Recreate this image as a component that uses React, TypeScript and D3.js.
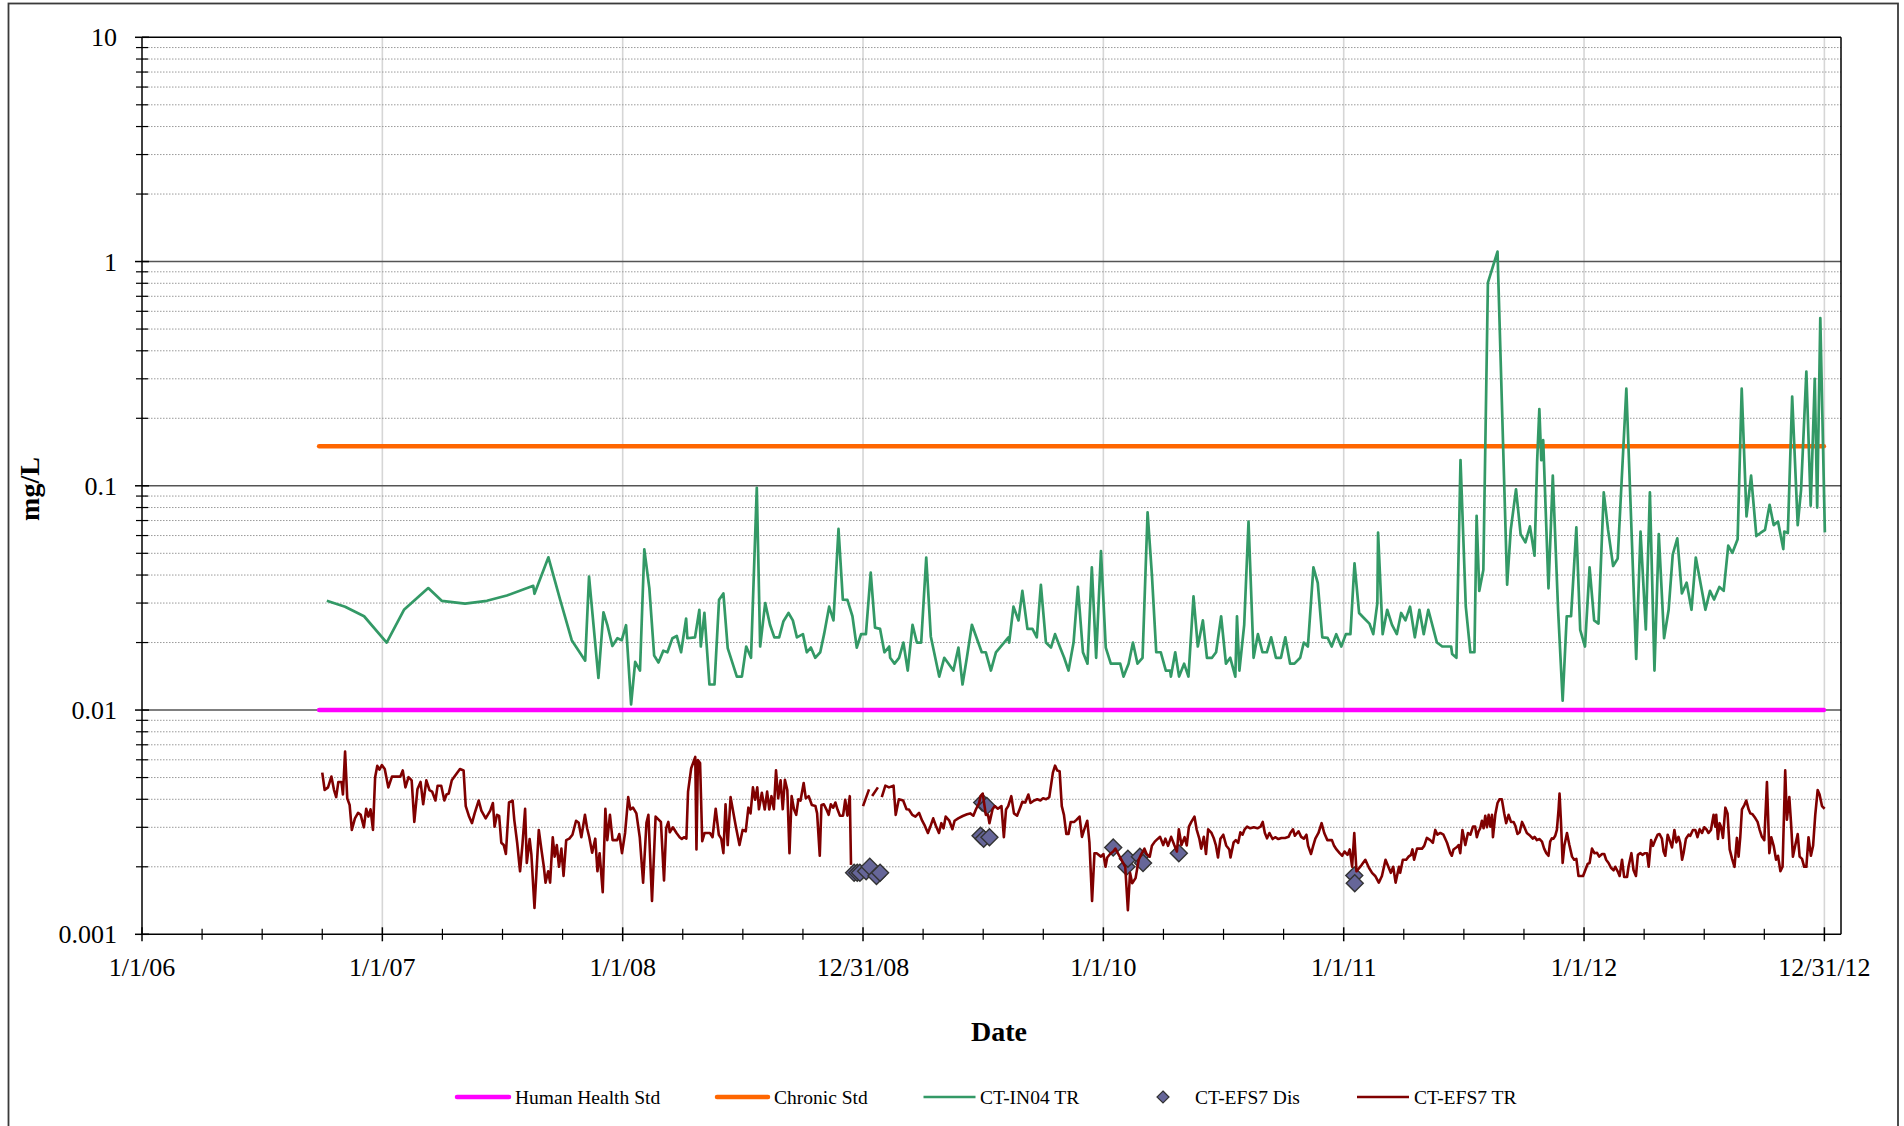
import React from 'react';
import * as d3 from 'd3';

// ---------- axis / tick data ----------
const xTickLabels = ['1/1/06', '1/1/07', '1/1/08', '12/31/08', '1/1/10', '1/1/11', '1/1/12', '12/31/12'];
const yTickValues = [0.001, 0.01, 0.1, 1, 10];
const yTickLabels = ['0.001', '0.01', '0.1', '1', '10'];

// ---------- standards ----------
const stdYears = [2006.737, 2012.998];
const humanHealthStd = 0.01;
const chronicStd = 0.15;

// ---------- series (decimal year, mg/L) ----------
const ctIn04TR: [number, number][] = [
  [2006.769, 0.0307], [2006.845, 0.0289], [2006.924, 0.0262], [2007.018, 0.020], [2007.090, 0.028], [2007.191, 0.035],
  [2007.247, 0.0307], [2007.344, 0.0298], [2007.435, 0.0307], [2007.518, 0.0324], [2007.628, 0.0358], [2007.633, 0.033],
  [2007.691, 0.048], [2007.740, 0.031], [2007.788, 0.0205], [2007.844, 0.0166], [2007.860, 0.0394], [2007.899, 0.0139],
  [2007.920, 0.0273], [2007.936, 0.024], [2007.957, 0.0193], [2007.978, 0.0209], [2007.996, 0.0205], [2008.014, 0.0239],
  [2008.035, 0.0106], [2008.052, 0.0164], [2008.072, 0.015], [2008.090, 0.0521], [2008.111, 0.0349], [2008.131, 0.0175],
  [2008.149, 0.0163], [2008.169, 0.0184], [2008.186, 0.0181], [2008.207, 0.0209], [2008.225, 0.0214], [2008.243, 0.0181],
  [2008.264, 0.0256], [2008.269, 0.0209], [2008.301, 0.0211], [2008.319, 0.028], [2008.325, 0.0192], [2008.340, 0.0271],
  [2008.361, 0.013], [2008.382, 0.013], [2008.401, 0.031], [2008.419, 0.0331], [2008.437, 0.0189], [2008.475, 0.0141],
  [2008.496, 0.0141], [2008.514, 0.0192], [2008.534, 0.0171], [2008.558, 0.098], [2008.572, 0.0192], [2008.593, 0.030],
  [2008.613, 0.024], [2008.631, 0.0211], [2008.651, 0.0211], [2008.669, 0.0249], [2008.690, 0.0271], [2008.708, 0.0251],
  [2008.725, 0.0211], [2008.750, 0.0218], [2008.766, 0.0181], [2008.783, 0.019], [2008.801, 0.0171], [2008.822, 0.0181],
  [2008.838, 0.0218], [2008.859, 0.0289], [2008.877, 0.0251], [2008.898, 0.0642], [2008.916, 0.0311], [2008.935, 0.031],
  [2008.956, 0.0262], [2008.974, 0.019], [2008.992, 0.0218], [2009.012, 0.0218], [2009.032, 0.041], [2009.050, 0.0233],
  [2009.071, 0.023], [2009.089, 0.0181], [2009.109, 0.0192], [2009.113, 0.0171], [2009.131, 0.0161], [2009.150, 0.0171],
  [2009.168, 0.020], [2009.186, 0.015], [2009.206, 0.024], [2009.224, 0.020], [2009.242, 0.020], [2009.263, 0.0479],
  [2009.282, 0.0213], [2009.317, 0.0141], [2009.338, 0.0171], [2009.376, 0.015], [2009.397, 0.019], [2009.414, 0.013],
  [2009.432, 0.0171], [2009.453, 0.024], [2009.494, 0.0181], [2009.511, 0.0181], [2009.532, 0.015], [2009.553, 0.0181],
  [2009.605, 0.0211], [2009.608, 0.020], [2009.626, 0.0289], [2009.647, 0.0251], [2009.663, 0.034], [2009.684, 0.023],
  [2009.705, 0.023], [2009.723, 0.0211], [2009.740, 0.0362], [2009.761, 0.020], [2009.782, 0.019], [2009.799, 0.0218],
  [2009.820, 0.019], [2009.837, 0.0171], [2009.855, 0.015], [2009.876, 0.020], [2009.894, 0.0354], [2009.915, 0.0181],
  [2009.934, 0.0161], [2009.952, 0.0433], [2009.970, 0.0171], [2009.990, 0.0511], [2010.010, 0.019], [2010.031, 0.0161],
  [2010.070, 0.0161], [2010.084, 0.0141], [2010.105, 0.0161], [2010.123, 0.020], [2010.142, 0.0161], [2010.163, 0.0171],
  [2010.184, 0.0762], [2010.202, 0.0401], [2010.220, 0.0181], [2010.239, 0.0181], [2010.260, 0.015], [2010.278, 0.015],
  [2010.281, 0.0141], [2010.299, 0.0181], [2010.315, 0.0141], [2010.336, 0.0161], [2010.354, 0.0141], [2010.375, 0.0321],
  [2010.393, 0.0192], [2010.414, 0.0251], [2010.431, 0.0171], [2010.452, 0.0171], [2010.469, 0.0181], [2010.490, 0.0262],
  [2010.510, 0.0161], [2010.528, 0.0171], [2010.549, 0.0141], [2010.556, 0.0262], [2010.566, 0.015], [2010.586, 0.024],
  [2010.604, 0.0693], [2010.625, 0.0171], [2010.643, 0.0218], [2010.662, 0.0181], [2010.680, 0.0181], [2010.698, 0.0211],
  [2010.718, 0.0171], [2010.739, 0.0171], [2010.757, 0.0211], [2010.777, 0.0161], [2010.795, 0.0161], [2010.819, 0.0171],
  [2010.834, 0.020], [2010.851, 0.0192], [2010.874, 0.0433], [2010.892, 0.0369], [2010.911, 0.0211], [2010.933, 0.021],
  [2010.950, 0.0192], [2010.969, 0.0218], [2010.990, 0.0192], [2011.009, 0.0218], [2011.028, 0.0218], [2011.045, 0.0451],
  [2011.064, 0.0271], [2011.086, 0.0256], [2011.107, 0.0243], [2011.123, 0.0218], [2011.140, 0.030], [2011.143, 0.0619],
  [2011.162, 0.0218], [2011.181, 0.028], [2011.201, 0.024], [2011.221, 0.0218], [2011.239, 0.0271], [2011.257, 0.0251],
  [2011.276, 0.0289], [2011.296, 0.0211], [2011.315, 0.028], [2011.333, 0.0218], [2011.352, 0.028], [2011.388, 0.020],
  [2011.410, 0.0192], [2011.447, 0.0192], [2011.451, 0.0178], [2011.469, 0.0171], [2011.486, 0.1303], [2011.508, 0.0289],
  [2011.527, 0.0181], [2011.544, 0.0181], [2011.553, 0.0735], [2011.564, 0.034], [2011.581, 0.0421], [2011.600, 0.806],
  [2011.640, 1.108], [2011.680, 0.0362], [2011.695, 0.0636], [2011.717, 0.0965], [2011.736, 0.0609], [2011.756, 0.0559],
  [2011.775, 0.0659], [2011.794, 0.0488], [2011.805, 0.13], [2011.814, 0.22], [2011.822, 0.13], [2011.830, 0.16],
  [2011.852, 0.0349], [2011.870, 0.111], [2011.892, 0.028], [2011.911, 0.011], [2011.928, 0.0262], [2011.946, 0.0262],
  [2011.968, 0.0652], [2011.984, 0.0228], [2012.004, 0.0192], [2012.023, 0.0433], [2012.042, 0.0251], [2012.060, 0.0243],
  [2012.082, 0.0935], [2012.100, 0.0636], [2012.121, 0.0439], [2012.140, 0.0474], [2012.176, 0.271], [2012.217, 0.0169],
  [2012.235, 0.0625], [2012.257, 0.0229], [2012.274, 0.0935], [2012.293, 0.015], [2012.311, 0.0609], [2012.333, 0.0209],
  [2012.352, 0.028], [2012.369, 0.0493], [2012.388, 0.0583], [2012.407, 0.0331], [2012.427, 0.037], [2012.447, 0.028],
  [2012.465, 0.0479], [2012.505, 0.028], [2012.524, 0.034], [2012.541, 0.0311], [2012.563, 0.0354], [2012.581, 0.034],
  [2012.600, 0.0541], [2012.617, 0.0502], [2012.639, 0.0577], [2012.656, 0.271], [2012.676, 0.073], [2012.695, 0.111],
  [2012.717, 0.0597], [2012.734, 0.0616], [2012.753, 0.0636], [2012.772, 0.0823], [2012.789, 0.0668], [2012.807, 0.0693],
  [2012.829, 0.0522], [2012.833, 0.0625], [2012.848, 0.0616], [2012.866, 0.25], [2012.889, 0.0668], [2012.903, 0.096],
  [2012.925, 0.323], [2012.943, 0.0815], [2012.960, 0.30], [2012.970, 0.08], [2012.983, 0.56], [2013.002, 0.062],
];

const ctEfs7Dis: [number, number][] = [
  [2008.963, 0.00188], [2008.976, 0.00188], [2008.987, 0.00188], [2009.013, 0.00191], [2009.028, 0.0020],
  [2009.056, 0.00182], [2009.071, 0.00188], [2009.489, 0.00275], [2009.496, 0.00387], [2009.502, 0.00267],
  [2009.515, 0.00373], [2009.526, 0.00271], [2010.041, 0.00244], [2010.096, 0.0020], [2010.102, 0.00217],
  [2010.152, 0.00222], [2010.165, 0.00208], [2010.314, 0.0023], [2011.044, 0.00183], [2011.046, 0.00169],
];

const ctEfs7TR: [number, number | null][] = [
  [2006.750, 0.00526], [2006.760, 0.0044], [2006.774, 0.00452], [2006.788, 0.00505], [2006.799, 0.0044], [2006.808, 0.00409],
  [2006.817, 0.00478], [2006.830, 0.00478], [2006.836, 0.0042], [2006.845, 0.00653], [2006.854, 0.00404], [2006.864, 0.00377],
  [2006.873, 0.00292], [2006.886, 0.00329], [2006.899, 0.00348], [2006.910, 0.00341], [2006.923, 0.003], [2006.933, 0.00363],
  [2006.942, 0.00335], [2006.951, 0.00361], [2006.961, 0.00292], [2006.970, 0.00502], [2006.979, 0.00564], [2006.988, 0.00543],
  [2006.998, 0.00568], [2007.010, 0.00546], [2007.025, 0.00452], [2007.040, 0.00505], [2007.059, 0.00505], [2007.075, 0.00505],
  [2007.085, 0.00538], [2007.096, 0.00452], [2007.109, 0.00502], [2007.122, 0.00486], [2007.133, 0.00317], [2007.146, 0.00443],
  [2007.159, 0.00478], [2007.170, 0.0038], [2007.183, 0.00486], [2007.196, 0.0044], [2007.207, 0.00433], [2007.221, 0.00395],
  [2007.230, 0.0046], [2007.245, 0.0046], [2007.258, 0.00395], [2007.267, 0.0042], [2007.276, 0.00424], [2007.289, 0.00486],
  [2007.304, 0.00512], [2007.323, 0.00546], [2007.338, 0.00538], [2007.347, 0.00373], [2007.360, 0.00337], [2007.373, 0.00313],
  [2007.384, 0.00346], [2007.401, 0.00395], [2007.412, 0.00356], [2007.430, 0.00329], [2007.449, 0.00356], [2007.460, 0.00385],
  [2007.467, 0.00302], [2007.477, 0.00341], [2007.486, 0.00337], [2007.495, 0.00256], [2007.505, 0.0025], [2007.514, 0.00228],
  [2007.527, 0.00387], [2007.542, 0.00395], [2007.549, 0.00324], [2007.561, 0.00256], [2007.573, 0.00191], [2007.583, 0.00252],
  [2007.594, 0.00363], [2007.601, 0.00208], [2007.613, 0.00266], [2007.620, 0.00228], [2007.633, 0.00131], [2007.651, 0.00292],
  [2007.663, 0.00234], [2007.672, 0.002], [2007.679, 0.0017], [2007.690, 0.00191], [2007.698, 0.0017], [2007.709, 0.00271],
  [2007.717, 0.00222], [2007.726, 0.0025], [2007.735, 0.002], [2007.745, 0.00241], [2007.754, 0.00182], [2007.765, 0.00263],
  [2007.778, 0.00267], [2007.791, 0.00278], [2007.806, 0.00321], [2007.817, 0.00314], [2007.828, 0.00271], [2007.843, 0.00341],
  [2007.852, 0.00297], [2007.861, 0.00271], [2007.873, 0.00231], [2007.886, 0.00267], [2007.895, 0.00191], [2007.904, 0.0023],
  [2007.917, 0.00154], [2007.928, 0.00363], [2007.936, 0.00263], [2007.947, 0.00341], [2007.958, 0.00263], [2007.977, 0.00263],
  [2007.986, 0.0028], [2007.997, 0.0023], [2008.010, 0.00283], [2008.023, 0.00409], [2008.032, 0.0036], [2008.043, 0.00367],
  [2008.057, 0.00346], [2008.071, 0.00271], [2008.085, 0.0017], [2008.099, 0.00314], [2008.107, 0.00341], [2008.122, 0.00141],
  [2008.137, 0.00335], [2008.159, 0.00317], [2008.172, 0.00174], [2008.181, 0.00297], [2008.190, 0.00317], [2008.196, 0.00285],
  [2008.209, 0.003], [2008.224, 0.00283], [2008.237, 0.00271], [2008.246, 0.00266], [2008.255, 0.00271], [2008.265, 0.00267],
  [2008.272, 0.00433], [2008.285, 0.0055], [2008.302, 0.00618], [2008.307, 0.00239], [2008.313, 0.00598], [2008.322, 0.00581],
  [2008.331, 0.0026], [2008.341, 0.00283], [2008.363, 0.00283], [2008.374, 0.00271], [2008.387, 0.00363], [2008.400, 0.00278],
  [2008.410, 0.00267], [2008.419, 0.0023], [2008.428, 0.0038], [2008.437, 0.0025], [2008.449, 0.00409], [2008.462, 0.00341],
  [2008.471, 0.00302], [2008.486, 0.0025], [2008.499, 0.00292], [2008.512, 0.00288], [2008.523, 0.00367], [2008.532, 0.00346],
  [2008.542, 0.00452], [2008.551, 0.00398], [2008.560, 0.00452], [2008.567, 0.00361], [2008.579, 0.00428], [2008.591, 0.0036],
  [2008.601, 0.00433], [2008.610, 0.0036], [2008.619, 0.00413], [2008.629, 0.00361], [2008.638, 0.00538], [2008.647, 0.00404],
  [2008.657, 0.00486], [2008.666, 0.00361], [2008.675, 0.00489], [2008.685, 0.0044], [2008.694, 0.0023], [2008.703, 0.00413],
  [2008.713, 0.0036], [2008.722, 0.00341], [2008.731, 0.004], [2008.740, 0.00395], [2008.753, 0.00473], [2008.762, 0.00404],
  [2008.774, 0.00413], [2008.787, 0.00377], [2008.802, 0.00373], [2008.809, 0.00346], [2008.820, 0.00224], [2008.827, 0.00377],
  [2008.837, 0.0038], [2008.848, 0.0036], [2008.857, 0.00341], [2008.866, 0.0038], [2008.876, 0.00367], [2008.885, 0.00387],
  [2008.894, 0.0036], [2008.904, 0.00338], [2008.917, 0.00338], [2008.926, 0.00398], [2008.935, 0.00338], [2008.945, 0.00413],
  [2008.950, 0.00204], [2008.975, null],
  [2009.000, 0.00373], [2009.025, 0.00443], [2009.031, null],
  [2009.038, 0.00414], [2009.062, 0.00452], [2009.070, null],
  [2009.078, 0.00409], [2009.093, 0.0046], [2009.108, 0.00452], [2009.127, 0.0046], [2009.136, 0.00341], [2009.149, 0.004],
  [2009.167, 0.00395], [2009.181, 0.00361], [2009.191, 0.0036], [2009.205, 0.00341], [2009.218, 0.00335], [2009.233, 0.00348],
  [2009.246, 0.00321], [2009.257, 0.00305], [2009.270, 0.00283], [2009.279, 0.003], [2009.292, 0.00329], [2009.303, 0.00305],
  [2009.316, 0.00283], [2009.326, 0.00313], [2009.335, 0.00297], [2009.344, 0.00335], [2009.359, 0.00321], [2009.372, 0.00294],
  [2009.381, 0.00321], [2009.396, 0.00329], [2009.415, 0.00337], [2009.433, 0.00343], [2009.446, 0.00346], [2009.459, 0.00338],
  [2009.470, 0.00361], [2009.483, 0.00385], [2009.489, 0.00413], [2009.498, 0.00424], [2009.511, 0.00341], [2009.520, 0.00341],
  [2009.526, 0.00313], [2009.539, 0.00361], [2009.548, 0.00373], [2009.561, 0.00363], [2009.576, 0.00373], [2009.586, 0.00271],
  [2009.595, 0.0036], [2009.604, 0.00373], [2009.617, 0.00413], [2009.628, 0.00346], [2009.641, 0.00338], [2009.654, 0.00367],
  [2009.663, 0.0039], [2009.675, 0.00387], [2009.688, 0.0042], [2009.697, 0.00385], [2009.712, 0.00395], [2009.725, 0.004],
  [2009.738, 0.00395], [2009.749, 0.00404], [2009.762, 0.004], [2009.775, 0.00409], [2009.790, 0.00526], [2009.799, 0.00565],
  [2009.808, 0.00538], [2009.818, 0.00534], [2009.827, 0.00373], [2009.836, 0.00341], [2009.846, 0.0028], [2009.855, 0.0028],
  [2009.864, 0.00317], [2009.879, 0.00317], [2009.888, 0.00324], [2009.901, 0.00335], [2009.911, 0.00272], [2009.920, 0.00292],
  [2009.933, 0.00321], [2009.942, 0.00257], [2009.953, 0.00141], [2009.963, 0.0023], [2009.972, 0.0023], [2009.990, 0.00222],
  [2010.000, 0.00228], [2010.009, 0.002], [2010.016, 0.0022], [2010.028, 0.00228], [2010.041, 0.00234], [2010.050, 0.00241],
  [2010.068, 0.00222], [2010.078, 0.00212], [2010.091, 0.002], [2010.102, 0.00128], [2010.111, 0.00188], [2010.120, 0.00169],
  [2010.134, 0.00178], [2010.147, 0.00215], [2010.158, 0.00228], [2010.171, 0.00241], [2010.180, 0.00228], [2010.193, 0.00222],
  [2010.202, 0.00248], [2010.214, 0.00259], [2010.227, 0.00267], [2010.236, 0.00272], [2010.249, 0.0025], [2010.258, 0.00267],
  [2010.269, 0.00248], [2010.282, 0.00272], [2010.295, 0.0025], [2010.306, 0.00234], [2010.314, 0.00294], [2010.325, 0.0025],
  [2010.338, 0.00271], [2010.347, 0.00249], [2010.356, 0.00302], [2010.366, 0.00317], [2010.379, 0.00335], [2010.388, 0.00294],
  [2010.399, 0.00268], [2010.407, 0.00241], [2010.418, 0.00272], [2010.427, 0.00228], [2010.436, 0.00294], [2010.450, 0.00283],
  [2010.459, 0.00269], [2010.468, 0.0025], [2010.477, 0.0022], [2010.487, 0.00267], [2010.499, 0.00278], [2010.511, 0.00249],
  [2010.524, 0.00239], [2010.529, 0.0022], [2010.542, 0.00257], [2010.551, 0.00263], [2010.561, 0.00256], [2010.570, 0.00285],
  [2010.579, 0.00278], [2010.588, 0.00294], [2010.598, 0.00302], [2010.611, 0.00297], [2010.626, 0.003], [2010.641, 0.00297],
  [2010.654, 0.00302], [2010.663, 0.00317], [2010.672, 0.00283], [2010.681, 0.00268], [2010.691, 0.00283], [2010.704, 0.00266],
  [2010.715, 0.00271], [2010.728, 0.00266], [2010.741, 0.00269], [2010.756, 0.00269], [2010.771, 0.00272], [2010.778, 0.00283],
  [2010.789, 0.00294], [2010.797, 0.00275], [2010.812, 0.00288], [2010.823, 0.00272], [2010.834, 0.00267], [2010.845, 0.00278],
  [2010.852, 0.00248], [2010.864, 0.00228], [2010.873, 0.00248], [2010.882, 0.00267], [2010.895, 0.00283], [2010.908, 0.00313],
  [2010.919, 0.00283], [2010.932, 0.00263], [2010.951, 0.00263], [2010.960, 0.00248], [2010.970, 0.00239], [2010.983, 0.0023],
  [2010.994, 0.00224], [2011.003, 0.00234], [2011.016, 0.00226], [2011.025, 0.00239], [2011.035, 0.002], [2011.044, 0.00283],
  [2011.053, 0.00191], [2011.062, 0.00196], [2011.075, 0.00204], [2011.090, 0.00215], [2011.105, 0.00198], [2011.118, 0.00188],
  [2011.131, 0.00182], [2011.146, 0.0017], [2011.159, 0.00182], [2011.174, 0.00215], [2011.196, 0.00188], [2011.206, 0.002],
  [2011.216, 0.0017], [2011.230, 0.002], [2011.235, 0.00188], [2011.246, 0.00215], [2011.260, 0.00215], [2011.270, 0.00222],
  [2011.280, 0.00226], [2011.286, 0.00239], [2011.293, 0.00215], [2011.305, 0.00241], [2011.326, 0.00241], [2011.335, 0.00248],
  [2011.346, 0.00269], [2011.360, 0.00263], [2011.371, 0.00256], [2011.381, 0.00292], [2011.390, 0.00278], [2011.402, 0.00283],
  [2011.415, 0.00278], [2011.430, 0.00256], [2011.443, 0.00231], [2011.450, 0.00224], [2011.457, 0.00239], [2011.471, 0.00245],
  [2011.478, 0.0025], [2011.485, 0.0023], [2011.494, 0.00292], [2011.506, 0.0025], [2011.517, 0.00283], [2011.527, 0.00278],
  [2011.538, 0.00302], [2011.547, 0.00302], [2011.554, 0.00271], [2011.561, 0.00288], [2011.568, 0.00297], [2011.575, 0.00321],
  [2011.582, 0.00297], [2011.589, 0.00338], [2011.596, 0.003], [2011.603, 0.00341], [2011.610, 0.00302], [2011.617, 0.00341],
  [2011.621, 0.00271], [2011.631, 0.00343], [2011.640, 0.00385], [2011.648, 0.004], [2011.658, 0.004], [2011.668, 0.00346],
  [2011.676, 0.00313], [2011.686, 0.00341], [2011.696, 0.00317], [2011.707, 0.00317], [2011.714, 0.00305], [2011.723, 0.0028],
  [2011.732, 0.00285], [2011.742, 0.00317], [2011.751, 0.00302], [2011.762, 0.00283], [2011.776, 0.00275], [2011.787, 0.00267],
  [2011.794, 0.00272], [2011.804, 0.00263], [2011.815, 0.00266], [2011.825, 0.00259], [2011.834, 0.00241], [2011.843, 0.0023],
  [2011.852, 0.00224], [2011.859, 0.00259], [2011.866, 0.00268], [2011.873, 0.00267], [2011.880, 0.00275], [2011.887, 0.00292],
  [2011.894, 0.00361], [2011.898, 0.00424], [2011.904, 0.00317], [2011.911, 0.00208], [2011.918, 0.00248], [2011.929, 0.00283],
  [2011.939, 0.0025], [2011.950, 0.00222], [2011.959, 0.00215], [2011.968, 0.00217], [2011.977, 0.00182], [2011.996, 0.00182],
  [2012.005, 0.00193], [2012.015, 0.00206], [2012.023, 0.00208], [2012.033, 0.00241], [2012.043, 0.0023], [2012.054, 0.00231],
  [2012.063, 0.00222], [2012.075, 0.00228], [2012.084, 0.00228], [2012.092, 0.00215], [2012.102, 0.00208], [2012.112, 0.00198],
  [2012.123, 0.00193], [2012.130, 0.002], [2012.140, 0.00191], [2012.148, 0.00182], [2012.158, 0.00215], [2012.167, 0.0018],
  [2012.179, 0.0018], [2012.185, 0.002], [2012.197, 0.0023], [2012.206, 0.00193], [2012.216, 0.00182], [2012.224, 0.00226],
  [2012.234, 0.0023], [2012.244, 0.00226], [2012.252, 0.0023], [2012.262, 0.0023], [2012.269, 0.002], [2012.279, 0.00263],
  [2012.287, 0.00248], [2012.296, 0.00263], [2012.306, 0.00278], [2012.314, 0.0028], [2012.324, 0.00267], [2012.331, 0.00234],
  [2012.338, 0.00224], [2012.348, 0.00278], [2012.356, 0.00263], [2012.366, 0.00244], [2012.376, 0.00292], [2012.384, 0.00257],
  [2012.393, 0.00272], [2012.400, 0.00256], [2012.408, 0.00215], [2012.414, 0.0023], [2012.424, 0.00267], [2012.435, 0.00278],
  [2012.442, 0.00275], [2012.453, 0.00292], [2012.463, 0.00292], [2012.472, 0.00271], [2012.481, 0.00294], [2012.491, 0.00283],
  [2012.500, 0.003], [2012.509, 0.00294], [2012.518, 0.00283], [2012.528, 0.00292], [2012.539, 0.00341], [2012.546, 0.00302],
  [2012.550, 0.00341], [2012.557, 0.00266], [2012.564, 0.00313], [2012.570, 0.00302], [2012.578, 0.00269], [2012.588, 0.00367],
  [2012.597, 0.00346], [2012.606, 0.00239], [2012.616, 0.00217], [2012.626, 0.002], [2012.636, 0.00269], [2012.643, 0.00222],
  [2012.650, 0.00271], [2012.657, 0.00361], [2012.667, 0.00377], [2012.675, 0.00395], [2012.685, 0.0036], [2012.692, 0.00346],
  [2012.701, 0.00343], [2012.713, 0.00329], [2012.722, 0.00317], [2012.730, 0.00294], [2012.740, 0.00272], [2012.750, 0.00263],
  [2012.761, 0.00478], [2012.771, 0.0023], [2012.779, 0.00271], [2012.789, 0.00248], [2012.799, 0.00215], [2012.807, 0.00224],
  [2012.817, 0.00191], [2012.826, 0.002], [2012.837, 0.00538], [2012.844, 0.00324], [2012.854, 0.00409], [2012.861, 0.00317],
  [2012.869, 0.00222], [2012.879, 0.0025], [2012.889, 0.0028], [2012.897, 0.00222], [2012.907, 0.00217], [2012.916, 0.002],
  [2012.925, 0.002], [2012.934, 0.00271], [2012.944, 0.00224], [2012.953, 0.00248], [2012.962, 0.00341], [2012.972, 0.0044],
  [2012.980, 0.0042], [2012.990, 0.00373], [2013.001, 0.00363],
];

// ---------- layout ----------
const W = 1904;
const H = 1126;
const PL = 142;
const PR = 1841;
const PT = 37.3;
const PB = 934.3;
const FONT = "'Times New Roman', 'Liberation Serif', serif";

const DAY = 86400000;
const T0 = Date.UTC(2006, 0, 1);
const yearToDate = (yr: number) => new Date(T0 + (yr - 2006) * 365.25 * DAY);

export default function App() {
  const x = d3.scaleTime().domain([new Date(T0), new Date(Date.UTC(2013, 0, 26))]).range([PL, PR]);
  const y = d3.scaleLog().domain([0.001, 10]).range([PB, PT]);

  const majorX = xTickLabels.map((_, i) => yearToDate(2006 + i));
  const minorX: Date[] = [];
  for (let k = 1; k <= 28; k++) if (k % 4 !== 0) minorX.push(yearToDate(2006 + k / 4));

  const minorY: number[] = [];
  [0.001, 0.01, 0.1, 1].forEach((d) => {
    for (let m = 2; m <= 9; m++) minorY.push(d * m);
  });

  const line = d3
    .line<[number, number | null]>()
    .defined((d) => d[1] != null)
    .x((d) => x(yearToDate(d[0])))
    .y((d) => y(d[1] as number));

  const stdLine = (v: number) => line(stdYears.map((yr) => [yr, v] as [number, number])) || '';

  const diamond = (r: number) => `M0,${-r}L${r},0L0,${r}L${-r},0Z`;

  const legendY = 1097;
  const legendTextY = 1103.5;

  return (
    <svg
      width={W}
      height={H}
      style={{ position: 'absolute', left: 0, top: 0, display: 'block', background: '#fff' }}
      fontFamily={FONT}
    >
      <rect x={0} y={0} width={W} height={H} fill="#fff" />
      {/* outer chart frame */}
      <rect x={8.5} y={3.5} width={1889.5} height={1140} fill="none" stroke="#3a3a3a" strokeWidth={1.8} />

      {/* vertical gridlines */}
      {majorX.slice(1).map((d, i) => (
        <line key={'vg' + i} x1={x(d)} x2={x(d)} y1={PT} y2={PB} stroke="#d6d6d6" strokeWidth={1.6} />
      ))}
      {/* minor horizontal gridlines */}
      {minorY.map((v, i) => (
        <line key={'mg' + i} x1={PL} x2={PR} y1={y(v)} y2={y(v)} stroke="#9a9a9a" strokeWidth={1} strokeDasharray="1.5,1.5" />
      ))}
      {/* major horizontal gridlines */}
      {[0.01, 0.1, 1].map((v, i) => (
        <line key={'Mg' + i} x1={PL} x2={PR} y1={y(v)} y2={y(v)} stroke="#555" strokeWidth={1.5} />
      ))}

      {/* plot border */}
      <line x1={PL} x2={PR} y1={PT} y2={PT} stroke="#000" strokeWidth={1.5} />
      <line x1={PR} x2={PR} y1={PT} y2={PB} stroke="#000" strokeWidth={1.5} />

      {/* standards */}
      <path d={stdLine(humanHealthStd)} fill="none" stroke="#FF00FF" strokeWidth={4.5} strokeLinecap="round" />
      <path d={stdLine(chronicStd)} fill="none" stroke="#FF6600" strokeWidth={4.5} strokeLinecap="round" />

      {/* CT-IN04 TR */}
      <path d={line(ctIn04TR) || ''} fill="none" stroke="#339966" strokeWidth={2.7} strokeLinejoin="round" />

      {/* CT-EFS7 Dis */}
      {ctEfs7Dis.map((d, i) => (
        <path
          key={'dm' + i}
          d={diamond(8.5)}
          transform={`translate(${x(yearToDate(d[0]))},${y(d[1])})`}
          fill="#666699"
          stroke="#333"
          strokeWidth={1.4}
        />
      ))}

      {/* CT-EFS7 TR */}
      <path d={line(ctEfs7TR) || ''} fill="none" stroke="#800000" strokeWidth={2.6} strokeLinejoin="round" />

      {/* axes */}
      <line x1={PL} x2={PL} y1={PT} y2={PB} stroke="#000" strokeWidth={1.5} />
      <line x1={PL} x2={PR} y1={PB} y2={PB} stroke="#000" strokeWidth={1.5} />

      {/* y ticks */}
      {yTickValues.map((v, i) => (
        <line key={'yt' + i} x1={PL - 7} x2={PL + 7} y1={y(v)} y2={y(v)} stroke="#000" strokeWidth={1.5} />
      ))}
      {minorY.map((v, i) => (
        <line key={'ymt' + i} x1={PL - 6} x2={PL + 6} y1={y(v)} y2={y(v)} stroke="#000" strokeWidth={1.2} />
      ))}
      {yTickValues.map((v, i) => (
        <text key={'yl' + i} x={117} y={y(v) + 9} textAnchor="end" fontSize={26} fill="#000">
          {yTickLabels[i]}
        </text>
      ))}

      {/* x ticks */}
      {majorX.map((d, i) => (
        <line key={'xt' + i} x1={x(d)} x2={x(d)} y1={PB - 7} y2={PB + 7} stroke="#000" strokeWidth={1.5} />
      ))}
      {minorX.map((d, i) => (
        <line key={'xmt' + i} x1={x(d)} x2={x(d)} y1={PB - 5.5} y2={PB + 5.5} stroke="#000" strokeWidth={1.2} />
      ))}
      {majorX.map((d, i) => (
        <text key={'xl' + i} x={x(d)} y={976} textAnchor="middle" fontSize={26} fill="#000">
          {xTickLabels[i]}
        </text>
      ))}

      {/* axis titles */}
      <text x={999} y={1041} textAnchor="middle" fontSize={28} fontWeight="bold" fill="#000">
        Date
      </text>
      <text transform="translate(39,489) rotate(-90)" textAnchor="middle" fontSize={28} fontWeight="bold" fill="#000">
        mg/L
      </text>

      {/* legend */}
      <g fontSize={19.5} fill="#000">
        <line x1={457} x2={509} y1={legendY} y2={legendY} stroke="#FF00FF" strokeWidth={4.5} strokeLinecap="round" />
        <text x={515} y={legendTextY}>Human Health Std</text>
        <line x1={717} x2={768} y1={legendY} y2={legendY} stroke="#FF6600" strokeWidth={4.5} strokeLinecap="round" />
        <text x={774} y={legendTextY}>Chronic Std</text>
        <line x1={923.5} x2={975.5} y1={legendY} y2={legendY} stroke="#339966" strokeWidth={2.7} />
        <text x={980} y={legendTextY}>CT-IN04 TR</text>
        <path d={diamond(6)} transform={`translate(1163,${legendY})`} fill="#666699" stroke="#333" strokeWidth={1.2} />
        <text x={1195} y={legendTextY}>CT-EFS7 Dis</text>
        <line x1={1357} x2={1409} y1={legendY} y2={legendY} stroke="#800000" strokeWidth={2.7} />
        <text x={1414} y={legendTextY}>CT-EFS7 TR</text>
      </g>
    </svg>
  );
}
